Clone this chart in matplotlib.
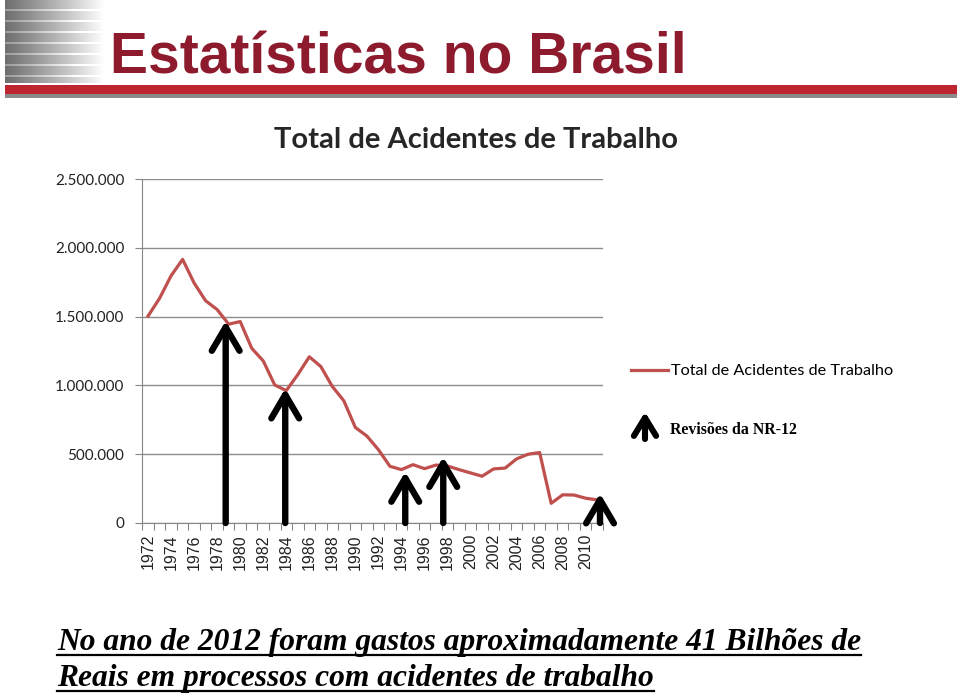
import numpy as np
import matplotlib
matplotlib.use("Agg")
import matplotlib.pyplot as plt
from matplotlib.patches import Rectangle
from matplotlib.lines import Line2D

# --- dados ---
years = list(range(1972, 2012))
acidentes = [1504000, 1633000, 1797000, 1916000, 1744000, 1615000, 1551000, 1445000,
             1464000, 1270000, 1178000, 1003000, 962000, 1078000, 1208000, 1137000,
             992000, 888000, 694000, 632000, 533000, 412000, 388000, 424000,
             395000, 421000, 414000, 388000, 364000, 340000, 393000, 399000,
             466000, 500000, 512000, 143000, 205000, 203000, 180000, 168000]

ytick_vals = [0, 500000, 1000000, 1500000, 2000000, 2500000]
ytick_labels = ['0', '500.000', '1.000.000', '1.500.000', '2.000.000', '2.500.000']
xtick_years = years[::2]

# revisões da NR-12 (setas): posição no eixo x e altura da ponta
revisoes_x = [1978.74, 1983.91, 1994.33, 1997.63, 2011.24]
revisoes_topo = [1469000, 978000, 372000, 480000, 215000]

W, H = 960, 693
fig = plt.figure(figsize=(W / 100, H / 100), dpi=100)


def fx(px):
    return px / W


def fy(py):
    return 1 - py / H


# --- cabeçalho do slide ---
grad_ax = fig.add_axes([fx(5), fy(83), fx(110), 83 / H])
cols = np.linspace(0.43, 1.0, 110)
cols = np.clip(cols + np.linspace(0, 0.25, 110) ** 2, 0, 1)
img = np.tile(cols, (83, 1))
for r in range(83):
    if r % 11 in (9, 10):
        img[r] = np.clip(img[r] + 0.18, 0, 1)
grad_ax.imshow(img, cmap='gray', vmin=0, vmax=1, aspect='auto', interpolation='bilinear')
grad_ax.axis('off')

fig.add_artist(Rectangle((fx(5), fy(94)), fx(952), 9 / H, transform=fig.transFigure,
                         color='#BE2531', lw=0))
fig.add_artist(Rectangle((fx(5), fy(98)), fx(952), 4 / H, transform=fig.transFigure,
                         color='#8A8A8A', lw=0))

fig.text(fx(110), fy(73), 'Estatísticas no Brasil', color='#8E1B2D', fontsize=41,
         fontweight='bold', family=['Liberation Sans Narrow', 'Liberation Sans'],
         va='baseline', ha='left')

# --- gráfico ---
ax = fig.add_axes([fx(142.3), fy(523), (603 - 142.3) / W, (523 - 179) / H])
ax.plot(years, acidentes, color='#C0504D', lw=2.3, label='Total de Acidentes de Trabalho',
        zorder=3)
ax.set_xlim(years[0] - 0.5, years[-1] + 0.5)
ax.set_ylim(0, 2500000)

ax.set_yticks(ytick_vals)
ax.set_yticklabels(ytick_labels, family='Lato', fontsize=11, color='#222222')
ax.yaxis.grid(True, color='#8C8C8C', lw=1)
ax.set_axisbelow(True)

bounds = [y - 0.5 for y in years] + [years[-1] + 0.5]
ax.set_xticks(bounds)
ax.set_xticklabels([])
ax.set_xticks(xtick_years, minor=True)
ax.set_xticklabels([str(y) for y in xtick_years], minor=True, rotation=90,
                   family='Liberation Sans', fontsize=11.5, color='#222222')
ax.tick_params(axis='x', which='major', length=5, color='#868686')
ax.tick_params(axis='x', which='minor', length=0, pad=8)
ax.tick_params(axis='y', length=5, color='#868686', pad=8)

for s in ['top', 'right']:
    ax.spines[s].set_visible(False)
for s in ['left', 'bottom']:
    ax.spines[s].set_color('#868686')

ax.legend(loc='center left', bbox_to_anchor=(fx(631), fy(371)), bbox_transform=fig.transFigure,
          frameon=False, prop={'family': 'Lato', 'size': 11.7}, handlelength=2.3,
          handletextpad=0.15, borderpad=0, borderaxespad=0)

fig.text(fx(476), fy(140), 'Total de Acidentes de Trabalho', ha='center', va='center',
         fontsize=21, fontweight='bold', family='Lato', color='#262626')

# setas das revisões
for x, topo in zip(revisoes_x, revisoes_topo):
    ax.annotate('', xy=(x, topo), xytext=(x, 0), annotation_clip=False,
                arrowprops=dict(arrowstyle='->,head_length=0.85,head_width=0.5',
                                lw=4.6, color='black', shrinkA=0, shrinkB=0,
                                mutation_scale=20), zorder=5)

# legenda da seta
ax.annotate('', xy=(645, H - 412), xytext=(645, H - 439), xycoords='figure pixels',
            textcoords='figure pixels', annotation_clip=False,
            arrowprops=dict(arrowstyle='->,head_length=0.65,head_width=0.4', lw=4.4,
                            color='black', shrinkA=0, shrinkB=0, mutation_scale=20))
fig.text(fx(670), fy(430), 'Revisões da NR-12', family='Liberation Serif',
         fontweight='bold', fontsize=11.4, va='center', ha='left')

# --- texto inferior sublinhado ---
linhas = ['No ano de 2012 foram gastos aproximadamente 41 Bilhões de',
          'Reais em processos com acidentes de trabalho']
bases = [650, 686]
textos = []
for txt, b in zip(linhas, bases):
    textos.append(fig.text(fx(57), fy(b), txt, family='Liberation Serif', style='italic',
                           fontweight='bold', fontsize=22.7, va='baseline', ha='left'))

fig.canvas.draw()
rend = fig.canvas.get_renderer()
for t, b in zip(textos, bases):
    bb = t.get_window_extent(rend)
    fig.add_artist(Line2D([bb.x0 / W, bb.x1 / W], [fy(b + 5), fy(b + 5)],
                          transform=fig.transFigure, color='black', lw=1.6))

fig.savefig('out.png', dpi=100)
